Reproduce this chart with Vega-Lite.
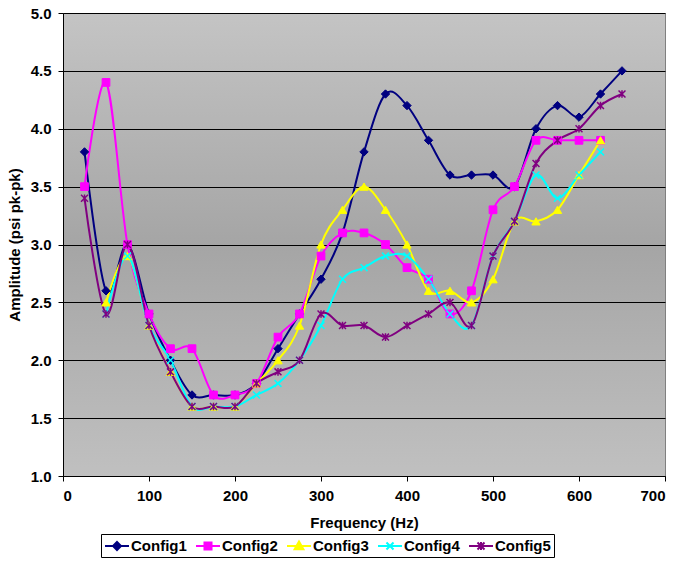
{
  "$schema": "https://vega.github.io/schema/vega-lite/v6.json",
  "width": 602,
  "height": 463,
  "autosize": {"type": "none"},
  "padding": {"left": 63, "top": 13, "right": 14, "bottom": 85},
  "background": "white",
  "config": {
    "font": "Liberation Sans",
    "view": {
      "fill": {"gradient": "linear", "x1": 0, "y1": 0, "x2": 0, "y2": 1,
        "stops": [{"offset": 0, "color": "#c4c4c4"}, {"offset": 0.5, "color": "#a5a5a5"}, {"offset": 1, "color": "#c0c0c0"}]},
      "stroke": "#808080",
      "strokeWidth": 1
    },
    "axis": {
      "labelFont": "Liberation Sans", "labelFontSize": 15, "labelFontWeight": "bold", "labelColor": "black",
      "titleFont": "Liberation Sans", "titleFontSize": 15, "titleFontWeight": "bold", "titleColor": "black",
      "domainColor": "black", "tickColor": "black", "tickSize": 5, "domainWidth": 1, "tickWidth": 1
    }
  },
  "data": {"values": [
    {"f":25,"a":3.8,"s":"Config1"},{"f":50,"a":2.6,"s":"Config1"},{"f":75,"a":3.0,"s":"Config1"},{"f":100,"a":2.4,"s":"Config1"},{"f":125,"a":2.0,"s":"Config1"},{"f":150,"a":1.7,"s":"Config1"},{"f":175,"a":1.7,"s":"Config1"},{"f":200,"a":1.7,"s":"Config1"},{"f":225,"a":1.8,"s":"Config1"},{"f":250,"a":2.1,"s":"Config1"},{"f":275,"a":2.4,"s":"Config1"},{"f":300,"a":2.7,"s":"Config1"},{"f":325,"a":3.1,"s":"Config1"},{"f":350,"a":3.8,"s":"Config1"},{"f":375,"a":4.3,"s":"Config1"},{"f":400,"a":4.2,"s":"Config1"},{"f":425,"a":3.9,"s":"Config1"},{"f":450,"a":3.6,"s":"Config1"},{"f":475,"a":3.6,"s":"Config1"},{"f":500,"a":3.6,"s":"Config1"},{"f":525,"a":3.5,"s":"Config1"},{"f":550,"a":4.0,"s":"Config1"},{"f":575,"a":4.2,"s":"Config1"},{"f":600,"a":4.1,"s":"Config1"},{"f":625,"a":4.3,"s":"Config1"},{"f":650,"a":4.5,"s":"Config1"},
    {"f":25,"a":3.5,"s":"Config2"},{"f":50,"a":4.4,"s":"Config2"},{"f":75,"a":3.0,"s":"Config2"},{"f":100,"a":2.4,"s":"Config2"},{"f":125,"a":2.1,"s":"Config2"},{"f":150,"a":2.1,"s":"Config2"},{"f":175,"a":1.7,"s":"Config2"},{"f":200,"a":1.7,"s":"Config2"},{"f":225,"a":1.8,"s":"Config2"},{"f":250,"a":2.2,"s":"Config2"},{"f":275,"a":2.4,"s":"Config2"},{"f":300,"a":2.9,"s":"Config2"},{"f":325,"a":3.1,"s":"Config2"},{"f":350,"a":3.1,"s":"Config2"},{"f":375,"a":3.0,"s":"Config2"},{"f":400,"a":2.8,"s":"Config2"},{"f":425,"a":2.7,"s":"Config2"},{"f":450,"a":2.4,"s":"Config2"},{"f":475,"a":2.6,"s":"Config2"},{"f":500,"a":3.3,"s":"Config2"},{"f":525,"a":3.5,"s":"Config2"},{"f":550,"a":3.9,"s":"Config2"},{"f":575,"a":3.9,"s":"Config2"},{"f":600,"a":3.9,"s":"Config2"},{"f":625,"a":3.9,"s":"Config2"},
    {"f":50,"a":2.5,"s":"Config3"},{"f":75,"a":2.9,"s":"Config3"},{"f":100,"a":2.3,"s":"Config3"},{"f":125,"a":1.9,"s":"Config3"},{"f":150,"a":1.6,"s":"Config3"},{"f":175,"a":1.6,"s":"Config3"},{"f":200,"a":1.6,"s":"Config3"},{"f":225,"a":1.8,"s":"Config3"},{"f":250,"a":2.0,"s":"Config3"},{"f":275,"a":2.3,"s":"Config3"},{"f":300,"a":3.0,"s":"Config3"},{"f":325,"a":3.3,"s":"Config3"},{"f":350,"a":3.5,"s":"Config3"},{"f":375,"a":3.3,"s":"Config3"},{"f":400,"a":3.0,"s":"Config3"},{"f":425,"a":2.6,"s":"Config3"},{"f":450,"a":2.6,"s":"Config3"},{"f":475,"a":2.5,"s":"Config3"},{"f":500,"a":2.7,"s":"Config3"},{"f":525,"a":3.2,"s":"Config3"},{"f":550,"a":3.2,"s":"Config3"},{"f":575,"a":3.3,"s":"Config3"},{"f":600,"a":3.6,"s":"Config3"},{"f":625,"a":3.9,"s":"Config3"},
    {"f":50,"a":2.4,"s":"Config4"},{"f":75,"a":2.9,"s":"Config4"},{"f":100,"a":2.3,"s":"Config4"},{"f":125,"a":2.0,"s":"Config4"},{"f":150,"a":1.6,"s":"Config4"},{"f":175,"a":1.6,"s":"Config4"},{"f":200,"a":1.6,"s":"Config4"},{"f":225,"a":1.7,"s":"Config4"},{"f":250,"a":1.8,"s":"Config4"},{"f":275,"a":2.0,"s":"Config4"},{"f":300,"a":2.3,"s":"Config4"},{"f":325,"a":2.7,"s":"Config4"},{"f":350,"a":2.8,"s":"Config4"},{"f":375,"a":2.9,"s":"Config4"},{"f":400,"a":2.9,"s":"Config4"},{"f":425,"a":2.7,"s":"Config4"},{"f":450,"a":2.4,"s":"Config4"},{"f":475,"a":2.3,"s":"Config4"},{"f":500,"a":2.9,"s":"Config4"},{"f":525,"a":3.2,"s":"Config4"},{"f":550,"a":3.6,"s":"Config4"},{"f":575,"a":3.4,"s":"Config4"},{"f":600,"a":3.6,"s":"Config4"},{"f":625,"a":3.8,"s":"Config4"},
    {"f":25,"a":3.4,"s":"Config5"},{"f":50,"a":2.4,"s":"Config5"},{"f":75,"a":3.0,"s":"Config5"},{"f":100,"a":2.3,"s":"Config5"},{"f":125,"a":1.9,"s":"Config5"},{"f":150,"a":1.6,"s":"Config5"},{"f":175,"a":1.6,"s":"Config5"},{"f":200,"a":1.6,"s":"Config5"},{"f":225,"a":1.8,"s":"Config5"},{"f":250,"a":1.9,"s":"Config5"},{"f":275,"a":2.0,"s":"Config5"},{"f":300,"a":2.4,"s":"Config5"},{"f":325,"a":2.3,"s":"Config5"},{"f":350,"a":2.3,"s":"Config5"},{"f":375,"a":2.2,"s":"Config5"},{"f":400,"a":2.3,"s":"Config5"},{"f":425,"a":2.4,"s":"Config5"},{"f":450,"a":2.5,"s":"Config5"},{"f":475,"a":2.3,"s":"Config5"},{"f":500,"a":2.9,"s":"Config5"},{"f":525,"a":3.2,"s":"Config5"},{"f":550,"a":3.7,"s":"Config5"},{"f":575,"a":3.9,"s":"Config5"},{"f":600,"a":4.0,"s":"Config5"},{"f":625,"a":4.2,"s":"Config5"},{"f":650,"a":4.3,"s":"Config5"}
  ]},
  "encoding": {
    "x": {"field": "f", "type": "quantitative", "scale": {"domain": [0, 700], "nice": false},
      "axis": {"values": [0,100,200,300,400,500,600,700], "title": "Frequency (Hz)", "grid": false, "labelPadding": 7, "titleY": 46, "titleBaseline": "middle"}},
    "y": {"field": "a", "type": "quantitative", "scale": {"domain": [1, 5], "nice": false, "zero": false},
      "axis": {"values": [1,1.5,2,2.5,3,3.5,4,4.5,5], "format": ".1f", "title": "Amplitude (psi pk-pk)", "grid": true, "gridColor": "black", "gridWidth": 1, "labelPadding": 7, "titleX": -49, "titleY": 231.5, "titleBaseline": "middle", "titleAlign": "center", "titleAngle": -90}}
  },
  "layer": [
    {"mark": {"type": "line", "interpolate": "cardinal", "strokeWidth": 2},
      "encoding": {
        "color": {"field": "s", "type": "nominal",
          "scale": {"domain": ["Config1","Config2","Config3","Config4","Config5"], "range": ["#000080","#ff00ff","#ffff00","#00ffff","#800080"]},
          "legend": {"orient": "none", "legendX": 38, "legendY": 521, "direction": "horizontal", "title": null,
            "strokeColor": "black", "padding": 3, "labelFont": "Liberation Sans", "labelFontSize": 15, "labelFontWeight": "bold", "labelColor": "black",
            "symbolSize": 256, "labelOffset": 9, "columnPadding": 5, "symbolStrokeWidth": 2, "symbolType": "M-1,0H2",
            "encode": {"symbols": {"update": {
              "shape": {"signal": "({'Config1':'M-1,0H2M0.5,-0.5L1,0L0.5,0.5L0,0Z','Config2':'M-1,0H2M0.06,-0.44H0.94V0.44H0.06Z','Config3':'M-1,0H2M0.5,-0.56L1.05,0.42H-0.05Z','Config4':'M-1,0H2M0.06,-0.44L0.94,0.44M0.06,0.44L0.94,-0.44','Config5':'M-1,0H2M0.06,-0.44L0.94,0.44M0.06,0.44L0.94,-0.44M0.5,-0.5V0.5'})[datum.value]"},
              "fill": {"signal": "({'Config1':'#000080','Config2':'#ff00ff','Config3':'#ffff00','Config4':'#00ffff','Config5':'#800080'})[datum.value]"},
              "stroke": {"signal": "({'Config1':'#000080','Config2':'#ff00ff','Config3':'#ffff00','Config4':'#00ffff','Config5':'#800080'})[datum.value]"},
              "strokeWidth": {"value": 2},
              "opacity": {"value": 1}
            }}}}}
      }},
    {"transform": [{"filter": "datum.s === 'Config1'"}],
      "mark": {"type": "point", "shape": "diamond", "filled": true, "size": 70, "fill": "#000080", "stroke": "#000080", "strokeWidth": 1, "opacity": 1}},
    {"transform": [{"filter": "datum.s === 'Config2'"}],
      "mark": {"type": "point", "shape": "square", "filled": true, "size": 60, "fill": "#ff00ff", "stroke": "#ff00ff", "strokeWidth": 1, "opacity": 1}},
    {"transform": [{"filter": "datum.s === 'Config3'"}],
      "mark": {"type": "point", "shape": "triangle-up", "filled": true, "size": 70, "fill": "#ffff00", "stroke": "#ffff00", "strokeWidth": 1, "opacity": 1}},
    {"transform": [{"filter": "datum.s === 'Config4'"}],
      "mark": {"type": "point", "shape": "M-1,-1L1,1M-1,1L1,-1", "filled": false, "size": 48, "stroke": "#00ffff", "strokeWidth": 1.5, "opacity": 1}},
    {"transform": [{"filter": "datum.s === 'Config5'"}],
      "mark": {"type": "point", "shape": "M-1,-1L1,1M-1,1L1,-1M0,-1.1V1.1", "filled": false, "size": 48, "stroke": "#800080", "strokeWidth": 1.5, "opacity": 1}}
  ]
}
